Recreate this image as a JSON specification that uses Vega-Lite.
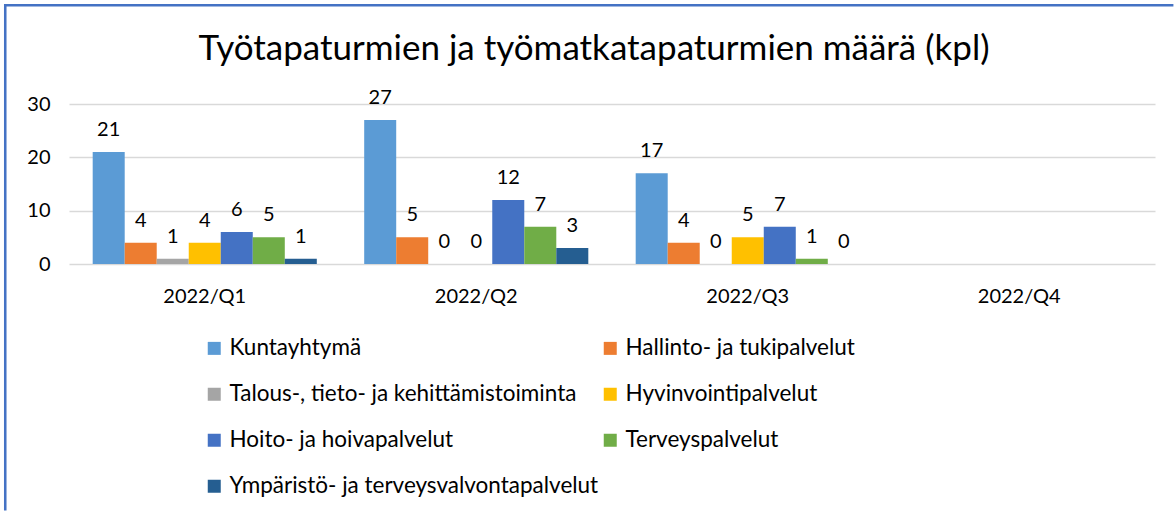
{
  "$schema": "https://vega.github.io/schema/vega-lite/v6.json",
  "autosize": "none",
  "width": 1086,
  "height": 160,
  "padding": {"left": 69, "top": 104, "right": 19, "bottom": 249},
  "background": "white",
  "config": {
    "font": "Lato",
    "view": {"stroke": null},
    "axis": {"labelFont": "Lato", "labelColor": "#000000", "labelFontSize": 20}
  },
  "title": {
    "text": "Työtapaturmien ja työmatkatapaturmien määrä (kpl)",
    "font": "Lato",
    "fontSize": 35,
    "fontWeight": "normal",
    "color": "#000000",
    "anchor": "middle",
    "frame": "group",
    "dx": -18,
    "baseline": "alphabetic",
    "offset": -90
  },
  "data": {
    "values": [
      {"quarter": "2022/Q1", "category": "Kuntayhtymä", "value": 21},
      {"quarter": "2022/Q1", "category": "Hallinto- ja tukipalvelut", "value": 4},
      {"quarter": "2022/Q1", "category": "Talous-, tieto- ja kehittämistoiminta", "value": 1},
      {"quarter": "2022/Q1", "category": "Hyvinvointipalvelut", "value": 4},
      {"quarter": "2022/Q1", "category": "Hoito- ja hoivapalvelut", "value": 6},
      {"quarter": "2022/Q1", "category": "Terveyspalvelut", "value": 5},
      {"quarter": "2022/Q1", "category": "Ympäristö- ja terveysvalvontapalvelut", "value": 1},
      {"quarter": "2022/Q2", "category": "Kuntayhtymä", "value": 27},
      {"quarter": "2022/Q2", "category": "Hallinto- ja tukipalvelut", "value": 5},
      {"quarter": "2022/Q2", "category": "Talous-, tieto- ja kehittämistoiminta", "value": 0},
      {"quarter": "2022/Q2", "category": "Hyvinvointipalvelut", "value": 0},
      {"quarter": "2022/Q2", "category": "Hoito- ja hoivapalvelut", "value": 12},
      {"quarter": "2022/Q2", "category": "Terveyspalvelut", "value": 7},
      {"quarter": "2022/Q2", "category": "Ympäristö- ja terveysvalvontapalvelut", "value": 3},
      {"quarter": "2022/Q3", "category": "Kuntayhtymä", "value": 17},
      {"quarter": "2022/Q3", "category": "Hallinto- ja tukipalvelut", "value": 4},
      {"quarter": "2022/Q3", "category": "Talous-, tieto- ja kehittämistoiminta", "value": 0},
      {"quarter": "2022/Q3", "category": "Hyvinvointipalvelut", "value": 5},
      {"quarter": "2022/Q3", "category": "Hoito- ja hoivapalvelut", "value": 7},
      {"quarter": "2022/Q3", "category": "Terveyspalvelut", "value": 1},
      {"quarter": "2022/Q3", "category": "Ympäristö- ja terveysvalvontapalvelut", "value": 0}
    ]
  },
  "encoding": {
    "x": {
      "field": "quarter",
      "type": "nominal",
      "scale": {"domain": ["2022/Q1", "2022/Q2", "2022/Q3", "2022/Q4"], "paddingInner": 0, "paddingOuter": 0},
      "axis": {"title": null, "labelAngle": 0, "domain": false, "ticks": false, "labelPadding": 22, "grid": false}
    },
    "xOffset": {
      "field": "category",
      "type": "nominal",
      "scale": {
        "domain": ["Kuntayhtymä", "Hallinto- ja tukipalvelut", "Talous-, tieto- ja kehittämistoiminta", "Hyvinvointipalvelut", "Hoito- ja hoivapalvelut", "Terveyspalvelut", "Ympäristö- ja terveysvalvontapalvelut"],
        "paddingInner": 0,
        "paddingOuter": 0.74
      }
    },
    "y": {
      "field": "value",
      "type": "quantitative",
      "scale": {"domain": [0, 30], "nice": false},
      "axis": {"title": null, "values": [0, 10, 20, 30], "domain": false, "ticks": false, "labelPadding": 19, "gridColor": "#d9d9d9", "gridWidth": 1.5}
    }
  },
  "layer": [
    {
      "mark": {"type": "bar"},
      "encoding": {
        "color": {
          "field": "category",
          "type": "nominal",
          "scale": {
            "domain": ["Kuntayhtymä", "Hallinto- ja tukipalvelut", "Talous-, tieto- ja kehittämistoiminta", "Hyvinvointipalvelut", "Hoito- ja hoivapalvelut", "Terveyspalvelut", "Ympäristö- ja terveysvalvontapalvelut"],
            "range": ["#5B9BD5", "#ED7D31", "#A5A5A5", "#FFC000", "#4472C4", "#70AD47", "#255E91"]
          },
          "legend": {
            "title": null,
            "orient": "none",
            "direction": "horizontal",
            "legendX": 134,
            "legendY": 233,
            "columns": 2,
            "columnPadding": -7,
            "rowPadding": 23,
            "padding": 0,
            "symbolType": "square",
            "symbolSize": 169,
            "symbolStrokeWidth": 0,
            "labelFont": "Lato",
            "labelFontSize": 22.5,
            "labelColor": "#000000",
            "labelOffset": 4,
            "labelLimit": 600
          }
        }
      }
    },
    {
      "mark": {"type": "text", "baseline": "alphabetic", "dy": -16, "fontSize": 20, "font": "Lato", "color": "#000000"},
      "encoding": {"text": {"field": "value", "type": "quantitative"}}
    },
    {
      "mark": {"type": "text", "color": "#4472C4"},
      "encoding": {
        "text": {"value": ""},
        "opacity": {
          "datum": "frame",
          "type": "ordinal",
          "scale": {"range": [1]},
          "legend": {
            "title": null,
            "orient": "none",
            "legendX": -64,
            "legendY": -99,
            "padding": 0,
            "symbolType": "M-1.004,-1.004L3.6,-1.004L3.6,-0.994L-0.994,-0.994L-0.994,0.99L-1.004,0.99Z",
            "symbolSize": 258064,
            "symbolStrokeWidth": 0,
            "symbolOpacity": 1,
            "labelExpr": "''"
          }
        }
      }
    }
  ]
}
